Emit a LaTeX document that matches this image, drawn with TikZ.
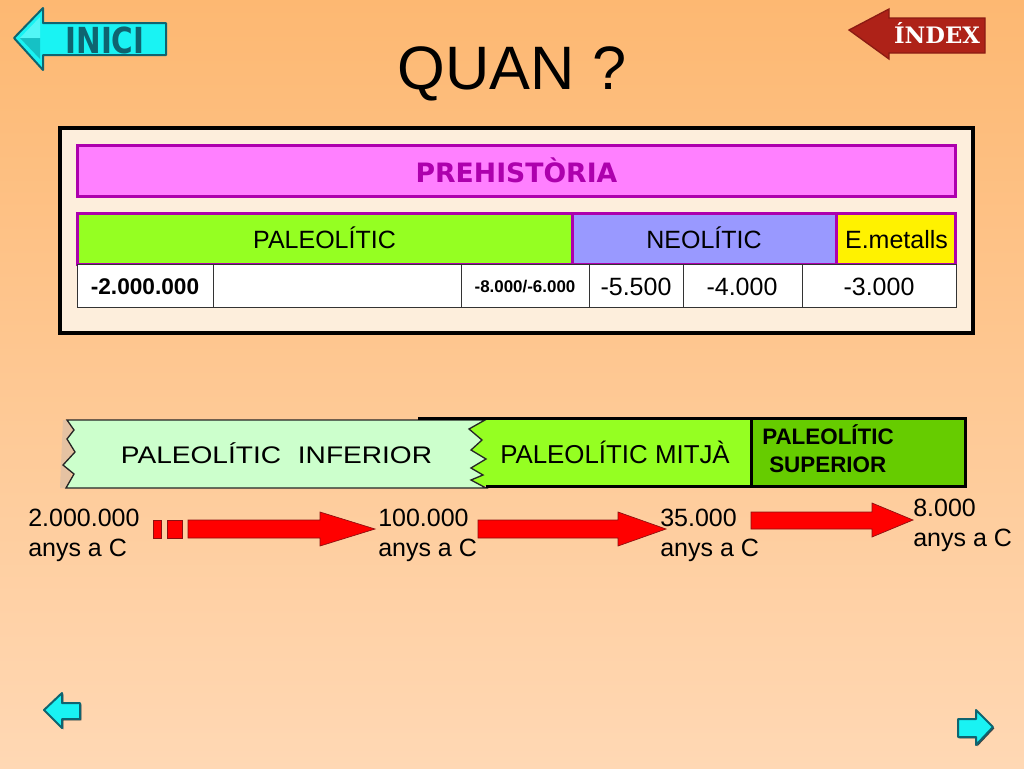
\documentclass[tikz,border=0pt]{standalone}
\usepackage{fontspec}
\setmainfont{Liberation Sans}
\newfontfamily\widefont{DejaVu Sans}
\newfontfamily\serifwide{DejaVu Serif}
\definecolor{bgtop}{HTML}{FDB872}
\definecolor{bgbot}{HTML}{FFD8B4}
\definecolor{framefill}{HTML}{FDEEDC}
\definecolor{pinkfill}{HTML}{FF80FF}
\definecolor{purpleline}{HTML}{AD00AD}
\definecolor{limefill}{HTML}{95FF22}
\definecolor{bluefill}{HTML}{9999FF}
\definecolor{palefill}{HTML}{CCFFCC}
\definecolor{darkgreen}{HTML}{66CC00}
\definecolor{navcyan}{HTML}{19F3F3}
\definecolor{navteal}{HTML}{0F6470}
\definecolor{navred}{HTML}{AE2218}
\definecolor{arrowline}{HTML}{8A1010}
\tikzset{
    txt/.style={font=\fontsize{18.75}{22.5}\selectfont, inner sep=0pt},
    timelabel/.style={txt, align=left, anchor=north west},
    cellline/.style={draw=black!80, line width=0.75pt},
    bandline/.style={draw=purpleline, line width=2.25pt},
    redarrow/.style={fill=red, draw=arrowline, line width=0.5pt},
    navarrow/.style={fill=navcyan, draw=navteal, line width=1.5pt, line join=round},
    navshadow/.style={fill=black!75, xshift=1pt, yshift=-1pt},
}
\begin{document}
\begin{tikzpicture}[x=0.75pt,y=-0.75pt]
        \useasboundingbox (0,0) rectangle (1024,768);
        \shade[top color=bgtop, bottom color=bgbot] (0,0) rectangle (1024,768);
        % title and top arrows
        \node[txt, font=\fontsize{46}{50}\selectfont] (title) at (512,74) {QUAN ?};
        \filldraw[navarrow] (14,38) -- (43,8) -- (43,23) -- (166,23) -- (166,55) -- (43,55) -- (43,70) -- cycle;
        \fill[white, opacity=0.25] (20,38) -- (40,17) -- (40,38) -- cycle;
        \fill[navteal, opacity=0.35] (20,38) -- (40,59) -- (40,38) -- cycle;
        \node[txt, text=navteal, font=\widefont\bfseries\fontsize{24}{26}\selectfont, xscale=0.92, yscale=1.12] (inici) at (105,40) {INICI};
        \filldraw[fill=navred, draw=navred!80!black, line width=1pt] (849,30) -- (889,9) -- (889,18) -- (985,18) -- (985,53) -- (889,53) -- (889,59) -- cycle;
        \node[txt, text=white, font=\serifwide\bfseries\fontsize{17}{20}\selectfont, anchor=base] (index) at (937,43) {ÍNDEX};
        % table
        \filldraw[fill=framefill, draw=black, line width=3pt] (60,128) rectangle (973,333);
        \filldraw[fill=pinkfill, bandline] (77.5,145) rectangle (955.5,196.5);
        \node[txt, text=purpleline, font=\widefont\bfseries\fontsize{20}{24}\selectfont] (prehistoria) at (516.5,170) {PREHISTÒRIA};
        \filldraw[fill=limefill, bandline] (77.5,213.5) rectangle (572,264);
        \filldraw[fill=bluefill, bandline] (572,213.5) rectangle (836,264);
        \filldraw[fill=yellow, bandline] (836,213.5) rectangle (955.5,264);
        \node[txt] (paleolitic) at (324.5,238) {PALEOLÍTIC};
        \node[txt] (neolitic) at (704,238) {NEOLÍTIC};
        \node[txt] (metalls) at (896.5,240) {E.metalls};
        \filldraw[fill=white, cellline] (77,264.5) rectangle (956,307);
        \foreach \xcell in {213.5,461,589,683,802}
            \draw[cellline] (\xcell,264.5)--(\xcell,307);
        \node[txt, font=\bfseries\fontsize{17}{20}\selectfont] (dateA) at (145,287) {-2.000.000};
        \node[txt, font=\bfseries\fontsize{12.7}{15}\selectfont] (dateB) at (525,287) {-8.000/-6.000};
        \node[txt] (dateC) at (636,287) {-5.500};
        \node[txt] (dateD) at (742,287) {-4.000};
        \node[txt] (dateE) at (879,287) {-3.000};
        % periods band
        \fill[black!10!bgbot] (63,420) -- (60,488) -- (70,488) -- (76,420) -- cycle;
        \fill[limefill] (465,418.5) rectangle (751,486);
        \fill[darkgreen] (751,418.5) rectangle (965,486);
        \filldraw[fill=palefill, draw=black!85, line width=1pt] (67,420) -- (74,430) -- (67,439) -- (75,452) -- (63,465) -- (74,474) -- (66,488) -- (486,488)
            -- (471,480) -- (483,475) -- (471,468) -- (486,459) -- (471,450) -- (482,440) -- (469,429) -- (485,420) -- cycle;
        \draw[black, line width=2.25pt] (418,418.5) -- (965,418.5) -- (965,486) -- (486,486);
        \draw[black, line width=2.25pt] (751,418.5) -- (751,486);
        \node[txt, font=\fontsize{18}{20}\selectfont, xscale=1.17] (inferior) at (276.5,453.5) {PALEOLÍTIC\hspace{0.6em}INFERIOR};
        \node[txt, font=\fontsize{19.4}{22}\selectfont] (mitja) at (615,452) {PALEOLÍTIC MITJÀ};
        \node[txt, font=\bfseries\fontsize{16.8}{18}\selectfont, anchor=base west] (superiorA) at (762,444) {PALEOLÍTIC};
        \node[txt, font=\bfseries\fontsize{16.8}{18}\selectfont, anchor=base west] (superiorB) at (769,472) {SUPERIOR};
        % time labels
        \node[timelabel] (yearA) at (28,509) {2.000.000\\anys a C};
        \node[timelabel] (yearB) at (378,509) {100.000\\anys a C};
        \node[timelabel] (yearC) at (660,509) {35.000\\anys a C};
        \node[timelabel] (yearD) at (913,499) {8.000\\anys a C};
        % red arrows
        \filldraw[redarrow] (153,520) rectangle (161,538);
        \filldraw[redarrow] (167,520) rectangle (182,538);
        \filldraw[redarrow] (188,520) -- (320,520) -- (320,512) -- (375,529) -- (320,546) -- (320,538) -- (188,538) -- cycle;
        \filldraw[redarrow] (478,520) -- (618,520) -- (618,512) -- (666,529) -- (618,546) -- (618,538) -- (478,538) -- cycle;
        \filldraw[redarrow] (751,512) -- (872,512) -- (872,503) -- (913,520) -- (872,537) -- (872,529) -- (751,529) -- cycle;
        % bottom arrows
        \fill[navshadow] (44,710) -- (62,693) -- (62,703) -- (80,703) -- (80,719) -- (62,719) -- (62,728) -- cycle;
        \filldraw[navarrow] (44,710) -- (62,693) -- (62,703) -- (80,703) -- (80,719) -- (62,719) -- (62,728) -- cycle;
        \fill[navshadow] (993,727) -- (976,710) -- (976,719) -- (958,719) -- (958,737) -- (976,737) -- (976,745) -- cycle;
        \filldraw[navarrow] (993,727) -- (976,710) -- (976,719) -- (958,719) -- (958,737) -- (976,737) -- (976,745) -- cycle;
    \end{tikzpicture}
\end{document}
